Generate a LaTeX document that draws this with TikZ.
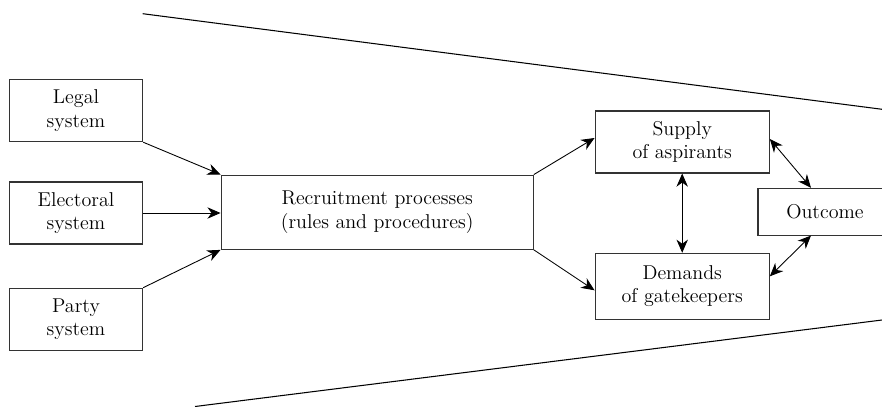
\documentclass[tikz,border=0pt]{standalone}
\usetikzlibrary{arrows.meta,positioning}
\tikzset{
  blk/.style={draw=black!80, line width=0.6pt, align=center, inner sep=0pt,
    font=\fontsize{11.4}{13.2}\selectfont},
  arr/.style={-{Stealth[length=7.5pt,width=6.5pt,inset=2.4pt]}, line width=0.5pt},
  darr/.style={{Stealth[length=7.5pt,width=6.5pt,inset=2.4pt]}-{Stealth[length=7.5pt,width=6.5pt,inset=2.4pt]}, line width=0.5pt}
}

\begin{document}
\begin{tikzpicture}[x=0.02cm,y=-0.02cm]
  \useasboundingbox (0,0) rectangle (882,406);
  % funnel
  \coordinate (ftl) at (142.7,13.7);
  \coordinate (ftr) at (886,109.8);
  \coordinate (fbl) at (195,406.5);
  \coordinate (fbr) at (886,319.5);
  \draw[line width=0.6pt] (ftl) -- (ftr);
  \draw[line width=0.6pt] (fbl) -- (fbr);
  % left boxes
  \node[blk, minimum width=2.668cm, minimum height=1.248cm] (legal) at (76,110.5) {Legal\\system};
  \node[blk, minimum width=2.668cm, minimum height=1.24cm] (electoral) at (76,213) {Electoral\\system};
  \node[blk, minimum width=2.668cm, minimum height=1.24cm] (party) at (76,319.2) {Party\\system};
  % middle
  \node[blk, minimum width=6.246cm, minimum height=1.486cm] (recruit) at (377.2,212.2)
    {Recruitment processes\\(rules and procedures)};
  % right
  \node[blk, minimum width=3.486cm, minimum height=1.24cm] (supply) at (682.2,142) {Supply\\of aspirants};
  \node[blk, minimum width=3.486cm, minimum height=1.32cm] (demands) at (682.2,286.3) {Demands\\of gatekeepers};
  \node[blk, minimum width=2.68cm, minimum height=0.934cm] (outcome) at (825,211.7) {Outcome};
  % arrows
  \draw[arr] (legal.south east) -- (recruit.north west);
  \draw[arr] (electoral.east) -- (electoral.east -| recruit.west);
  \draw[arr] (party.north east) -- (recruit.south west);
  \draw[arr] (recruit.north east) -- ([yshift=0.08cm]supply.west);
  \draw[arr] (recruit.south east) -- ([yshift=-0.08cm]demands.west);
  \draw[darr] (supply.south) -- (demands.north);
  \draw[darr] ([yshift=0.06cm]supply.east) -- ([xshift=-0.28cm]outcome.north);
  \draw[darr] ([yshift=0.2cm]demands.east) -- ([xshift=-0.28cm]outcome.south);
\end{tikzpicture}
\end{document}
